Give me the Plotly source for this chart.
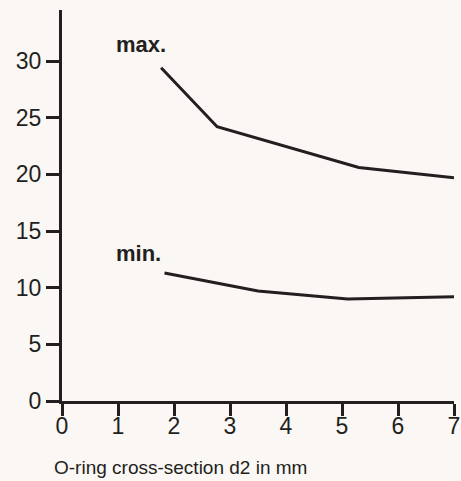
import plotly.graph_objects as go

# data
max_x = [1.77, 2.77, 5.3, 7.0]
max_y = [29.4, 24.2, 20.6, 19.7]
min_x = [1.83, 3.5, 5.1, 7.0]
min_y = [11.3, 9.7, 9.0, 9.2]

x_ticks = [0, 1, 2, 3, 4, 5, 6, 7]
y_ticks = [0, 5, 10, 15, 20, 25, 30]
x_title = "O-ring cross-section d2 in mm"
labels = [("max.", 0.93, 31.5), ("min.", 0.93, 13.0)]

ink = "#231f20"
bg = "#faf7f4"
fam = "Liberation Sans, Arial, Helvetica"

fig = go.Figure()
fig.add_trace(go.Scatter(x=max_x, y=max_y, mode="lines",
                         line=dict(color=ink, width=3), showlegend=False))
fig.add_trace(go.Scatter(x=min_x, y=min_y, mode="lines",
                         line=dict(color=ink, width=3), showlegend=False))

for txt, lx, ly in labels:
    fig.add_annotation(x=lx, y=ly, text="<b>%s</b>" % txt, showarrow=False,
                       xanchor="left", yanchor="middle",
                       font=dict(family=fam, size=22, color=ink))

fig.add_annotation(xref="paper", yref="paper", x=-0.026, y=-0.17,
                   text=x_title, showarrow=False, xanchor="left", yanchor="middle",
                   font=dict(family=fam, size=19, color=ink))

fig.update_layout(
    width=461, height=481,
    margin=dict(l=62, r=7, t=10, b=80),
    paper_bgcolor=bg, plot_bgcolor=bg,
    font=dict(family=fam, color=ink),
)
fig.update_xaxes(range=[0, 7], tickvals=x_ticks, showgrid=False, zeroline=False,
                 showline=True, linecolor=ink, linewidth=3,
                 ticks="outside", ticklen=12, tickwidth=3, tickcolor=ink,
                 tickfont=dict(size=23, color=ink), ticklabelstandoff=-10,
                 ticklabeloverflow="allow", automargin=False, fixedrange=True)
fig.update_yaxes(range=[0, 34.5], tickvals=y_ticks, showgrid=False, zeroline=False,
                 showline=True, linecolor=ink, linewidth=3,
                 ticks="outside", ticklen=13, tickwidth=3, tickcolor=ink,
                 tickfont=dict(size=23, color=ink), automargin=False, fixedrange=True)

fig.write_html("out.html", config={"displayModeBar": False},
               post_script="document.body.style.margin='0';document.body.style.overflow='hidden';")
